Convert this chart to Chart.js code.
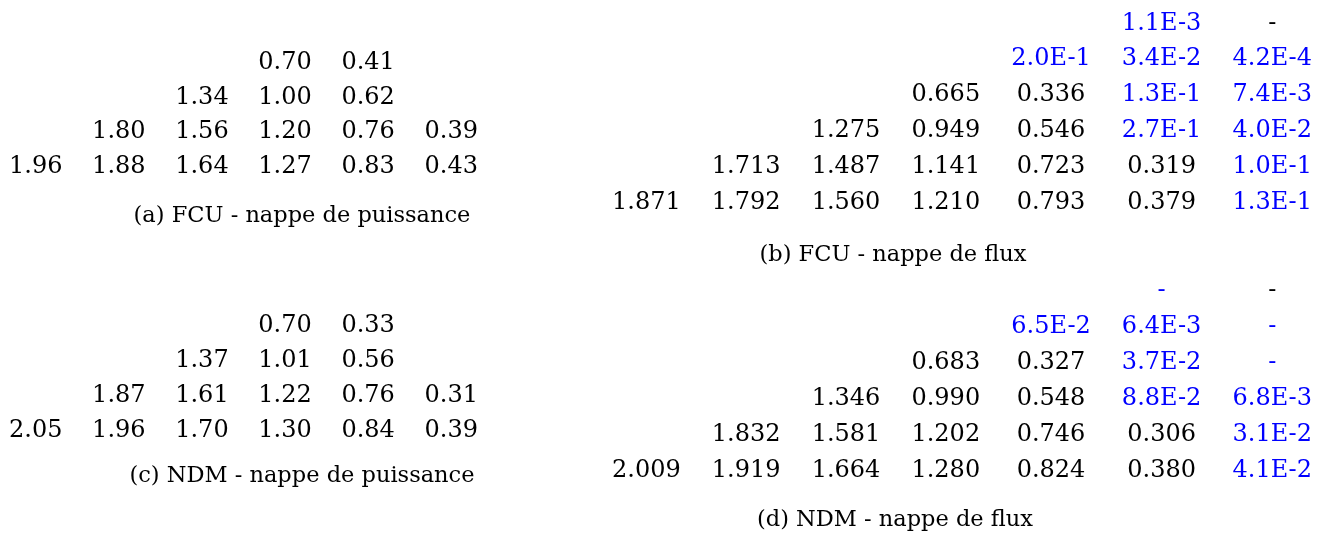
<!DOCTYPE html>
<html lang="fr">
<head>
<meta charset="UTF-8">
<title>Nappes de puissance et de flux</title>
<script src="https://cdn.jsdelivr.net/npm/chart.js"></script>
<style>
  html, body { margin: 0; padding: 0; background: #fff; }
  canvas { display: block; }
</style>
</head>
<body>
<canvas id="nappes" width="1332" height="534"></canvas>
<script>
// rows are listed top to bottom; null = empty cell,
// '-' = no value (black dash), 0 = negligible value (blue dash)
const fcuPower = [
  [null, null, null, 0.70, 0.41, null],
  [null, null, 1.34, 1.00, 0.62, null],
  [null, 1.80, 1.56, 1.20, 0.76, 0.39],
  [1.96, 1.88, 1.64, 1.27, 0.83, 0.43]
];
const fcuFlux = [
  [null, null, null, null, null, 1.1e-3, '-'],
  [null, null, null, null, 2.0e-1, 3.4e-2, 4.2e-4],
  [null, null, null, 0.665, 0.336, 1.3e-1, 7.4e-3],
  [null, null, 1.275, 0.949, 0.546, 2.7e-1, 4.0e-2],
  [null, 1.713, 1.487, 1.141, 0.723, 0.319, 1.0e-1],
  [1.871, 1.792, 1.560, 1.210, 0.793, 0.379, 1.3e-1]
];
const ndmPower = [
  [null, null, null, 0.70, 0.33, null],
  [null, null, 1.37, 1.01, 0.56, null],
  [null, 1.87, 1.61, 1.22, 0.76, 0.31],
  [2.05, 1.96, 1.70, 1.30, 0.84, 0.39]
];
const ndmFlux = [
  [null, null, null, null, null, 0, '-'],
  [null, null, null, null, 6.5e-2, 6.4e-3, 0],
  [null, null, null, 0.683, 0.327, 3.7e-2, 0],
  [null, null, 1.346, 0.990, 0.548, 8.8e-2, 6.8e-3],
  [null, 1.832, 1.581, 1.202, 0.746, 0.306, 3.1e-2],
  [2.009, 1.919, 1.664, 1.280, 0.824, 0.380, 4.1e-2]
];
const captions = [
  '(a) FCU - nappe de puissance',
  '(b) FCU - nappe de flux',
  '(c) NDM - nappe de puissance',
  '(d) NDM - nappe de flux'
];

const BLACK = '#000000';
const BLUE = '#0000ff';
const NUM_FONT = '24px "DejaVu Serif"';
const CAP_FONT = '22.5px "DejaVu Serif"';
const DIGIT_HALF = 8.5; // half the digit height, to put the baseline under the row centre

function cellText(v, digits) {
  if (v === '-') return { text: '-', color: BLACK };
  if (v === 0) return { text: '-', color: BLUE };
  if (v < 0.3) return { text: v.toExponential(1).toUpperCase(), color: BLUE };
  return { text: v.toFixed(digits), color: BLACK };
}

// where each sub-table sits on the page
const tables = [
  { rows: fcuPower, digits: 2, left: 9, right: 478, bottom: 164, rowH: 34.5, capX: 302, capY: 222 },
  { rows: fcuFlux,  digits: 3, left: 612, right: 1312, bottom: 200, rowH: 35.8, capX: 893, capY: 261 },
  { rows: ndmPower, digits: 2, left: 9, right: 478, bottom: 428, rowH: 34.8, capX: 302, capY: 482 },
  { rows: ndmFlux,  digits: 3, left: 612, right: 1312, bottom: 468, rowH: 36, capX: 895, capY: 526 }
];

// column centres like a tabular: each column as wide as its widest entry
const measure = document.createElement('canvas').getContext('2d');
measure.font = NUM_FONT;

function buildCells(t) {
  const nCols = t.rows[0].length;
  const widths = new Array(nCols).fill(0);
  t.rows.forEach(row => row.forEach((v, c) => {
    if (v === null) return;
    const w = measure.measureText(cellText(v, t.digits).text).width;
    widths[c] = Math.max(widths[c], w);
  }));
  const gap = (t.right - t.left - widths.reduce((a, b) => a + b, 0)) / (nCols - 1);
  const centres = [];
  let x = t.left;
  widths.forEach(w => { centres.push(x + w / 2); x += w + gap; });

  const cells = [];
  const nRows = t.rows.length;
  t.rows.forEach((row, r) => row.forEach((v, c) => {
    if (v === null) return;
    const cell = cellText(v, t.digits);
    cells.push({ x: centres[c], y: t.bottom - (nRows - 1 - r) * t.rowH, text: cell.text, color: cell.color });
  }));
  return cells;
}

const cellLabels = {
  id: 'cellLabels',
  afterDatasetsDraw(chart) {
    const ctx = chart.ctx;
    const xs = chart.scales.x, ys = chart.scales.y;
    ctx.save();
    ctx.textAlign = 'center';
    ctx.textBaseline = 'alphabetic';
    chart.data.datasets.forEach((ds, i) => {
      chart.getDatasetMeta(i).data.forEach((pt, j) => {
        const cell = ds.data[j];
        ctx.font = NUM_FONT;
        ctx.fillStyle = cell.color;
        ctx.fillText(cell.text, pt.x, pt.y + DIGIT_HALF);
      });
    });
    ctx.font = CAP_FONT;
    ctx.fillStyle = BLACK;
    tables.forEach((t, i) => {
      ctx.fillText(captions[i], xs.getPixelForValue(t.capX), ys.getPixelForValue(t.capY));
    });
    ctx.restore();
  }
};

new Chart(document.getElementById('nappes'), {
  type: 'scatter',
  data: {
    datasets: tables.map((t, i) => ({
      label: captions[i],
      data: buildCells(t),
      pointRadius: 0,
      pointHoverRadius: 0
    }))
  },
  options: {
    responsive: false,
    animation: false,
    events: [],
    layout: { padding: 0 },
    plugins: { legend: { display: false }, tooltip: { enabled: false } },
    scales: {
      x: { type: 'linear', min: 0, max: 1332, display: false },
      y: { type: 'linear', min: 0, max: 534, reverse: true, display: false }
    }
  },
  plugins: [cellLabels]
});
</script>
</body>
</html>
